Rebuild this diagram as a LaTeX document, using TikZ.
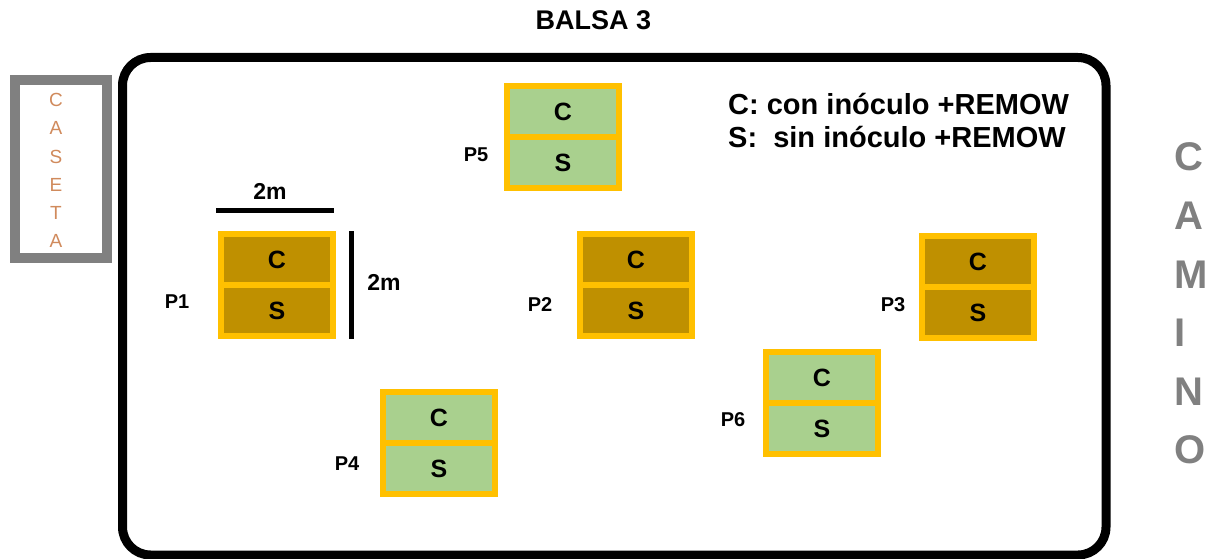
\documentclass[tikz,border=0pt]{standalone}
\usepackage{fontspec}
\setmainfont{Liberation Sans}
\definecolor{plotborder}{HTML}{FFC000}
\definecolor{plotbrown}{HTML}{BF9000}
\definecolor{plotgreen}{HTML}{A9D08E}
\definecolor{shedgray}{HTML}{808080}
\definecolor{shedletter}{HTML}{D08A5C}
\definecolor{roadgray}{HTML}{808080}

% one experimental plot: C cell above S cell, plus its label
% #1 name, #2 left, #3 top, #4 fill, #5 label, #6 label x, #7 label y
\newcommand\parcela[7]{%
  \node[cell, fill=#4] (#1c) at (#2+59, #3+28.5) {C};
  \node[cell, fill=#4] (#1s) at (#2+59, #3+79.5) {S};
  \node[plabel] (#1lab) at (#6, #7) {#5};
}

\begin{document}
\begin{tikzpicture}[x=1pt, y=-1pt,
  cell/.style={draw=plotborder, line width=6pt, minimum width=112pt,
    minimum height=51pt, inner sep=0pt,
    font=\fontsize{25}{30}\selectfont\bfseries},
  plabel/.style={inner sep=0pt, font=\fontsize{20}{24}\selectfont\bfseries},
  dimtext/.style={inner sep=0pt, font=\fontsize{23}{28}\selectfont\bfseries},
  dimline/.style={line width=5pt},
  legend/.style={inner sep=0pt, anchor=base west,
    font=\fontsize{29}{35}\selectfont\bfseries},
  shedchar/.style={inner sep=0pt, anchor=base, text=shedletter,
    font=\fontsize{19}{23}\selectfont},
  roadchar/.style={inner sep=0pt, anchor=base west, text=roadgray,
    font=\fontsize{40}{48}\selectfont\bfseries}]
\useasboundingbox (0,0) rectangle (1207,559);

% title
\node[inner sep=0pt, anchor=base, font=\fontsize{27}{32}\selectfont\bfseries]
  (title) at (593.5,30) {BALSA 3};

% pond outline
\node[draw, line width=9pt, rounded corners=28pt, minimum width=983.5pt,
  minimum height=497.5pt, inner sep=0pt] (balsa) at (614.25,306.25) {};

% shed
\node[draw=shedgray, line width=10pt, minimum width=92pt,
  minimum height=178pt, inner sep=0pt] (caseta) at (61,169) {};
\foreach \ch [count=\i from 0] in {C,A,S,E,T,A}
  \node[shedchar] (shed\i) at (56,107+28*\i) {\ch};

% road
\foreach \ch [count=\i from 0] in {C,A,M,I,N,O}
  \node[roadchar] (road\i) at (1174,171+58.5*\i) {\ch};

% legend
\node[legend] (legc) at (728,115) {C: con inóculo +REMOW};
\node[legend] (legs) at (728,147) {S:\ \ sin inóculo +REMOW};

% plots
\parcela{p1}{218}{231}{plotbrown}{P1}{177}{302}
\parcela{p2}{577}{231}{plotbrown}{P2}{540}{305}
\parcela{p3}{919}{233}{plotbrown}{P3}{893}{305}
\parcela{p4}{380}{389}{plotgreen}{P4}{347}{464}
\parcela{p5}{504}{83}{plotgreen}{P5}{476}{155}
\parcela{p6}{763}{349}{plotgreen}{P6}{733}{420}

% plot dimensions
\coordinate (dimHa) at (216,210);
\coordinate (dimHb) at (334,210);
\coordinate (dimVa) at (351.5,231);
\coordinate (dimVb) at (351.5,339);
\draw[dimline] (dimHa) -- (dimHb);
\draw[dimline] (dimVa) -- (dimVb);
\node[dimtext] (dimHt) at (270,191) {2m};
\node[dimtext] (dimVt) at (384,282) {2m};
\end{tikzpicture}
\end{document}
